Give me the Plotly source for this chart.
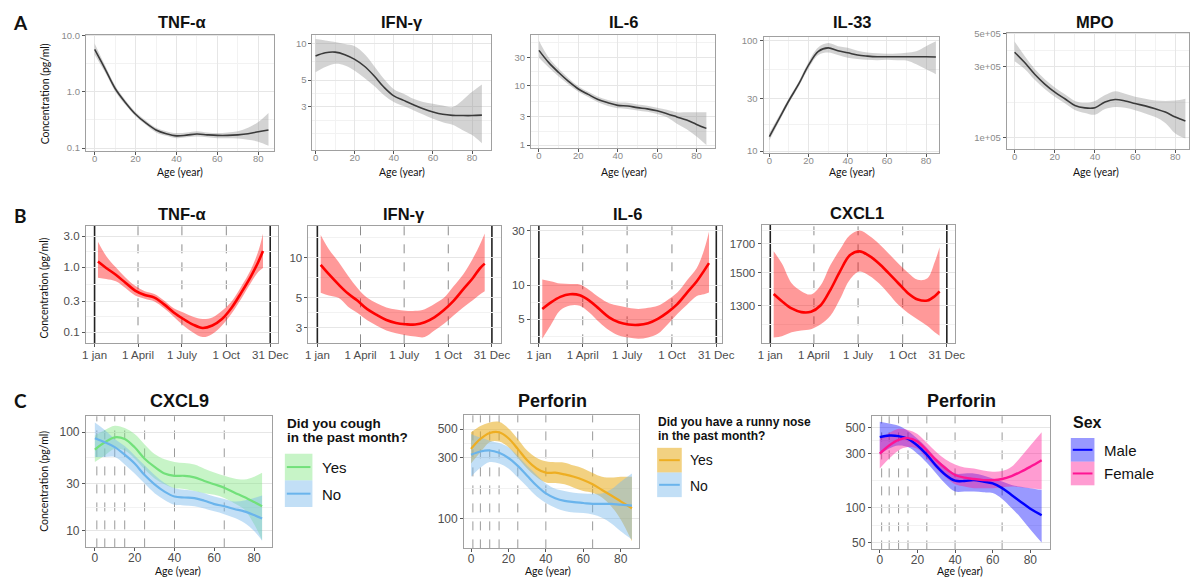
import plotly.graph_objects as go

# Browser adds an 8px body margin, so the figure is 8px smaller and page coordinates are shifted.
PAGE_OFF = 8
W, H = 1202 - PAGE_OFF, 580 - PAGE_OFF

# ---------------- DATA ----------------
AGE_A = [0, 5, 10, 15, 20, 25, 30, 35, 40, 45, 50, 55, 60, 65, 70, 75, 80, 85]

tnf_a_mean = [5.7, 2.6, 1.15, 0.65, 0.40, 0.28, 0.21, 0.18, 0.165, 0.17, 0.178, 0.172, 0.168, 0.168, 0.172, 0.18, 0.195, 0.21]
tnf_a_lo = [4.6, 2.25, 1.02, 0.59, 0.37, 0.26, 0.19, 0.165, 0.15, 0.155, 0.16, 0.155, 0.15, 0.15, 0.148, 0.14, 0.13, 0.11]
tnf_a_hi = [7.3, 3.0, 1.3, 0.72, 0.44, 0.31, 0.23, 0.20, 0.185, 0.19, 0.20, 0.19, 0.185, 0.19, 0.20, 0.23, 0.29, 0.42]

ifn_a_mean = [7.9, 8.4, 8.5, 8.1, 7.4, 6.5, 5.4, 4.36, 3.7, 3.4, 3.13, 2.9, 2.73, 2.61, 2.56, 2.55, 2.55, 2.57]
ifn_a_lo = [5.8, 6.4, 6.8, 6.6, 5.96, 5.2, 4.47, 3.75, 3.3, 3.05, 2.82, 2.6, 2.4, 2.25, 2.14, 1.94, 1.76, 1.51]
ifn_a_hi = [10.9, 10.6, 10.3, 9.9, 9.5, 8.2, 6.5, 5.1, 4.2, 3.85, 3.5, 3.3, 3.19, 3.08, 3.0, 3.4, 4.0, 4.6]

il6_a_mean = [40, 24.8, 16.9, 12, 8.9, 7.2, 5.9, 5.2, 4.7, 4.6, 4.3, 4.1, 3.8, 3.4, 3.0, 2.65, 2.24, 1.92]
il6_a_lo = [30, 20.5, 14.5, 10.6, 8.0, 6.5, 5.3, 4.6, 4.2, 4.1, 3.85, 3.65, 3.35, 2.95, 2.3, 1.85, 1.4, 1.0]
il6_a_hi = [58, 30, 19.5, 13.5, 9.9, 8.0, 6.6, 5.8, 5.3, 5.2, 4.85, 4.65, 4.3, 3.95, 3.6, 3.6, 3.6, 3.6]

il33_a_mean = [13.5, 19.7, 28.7, 40.5, 60, 80, 86, 81, 77.6, 74, 72.4, 71.5, 71.5, 71.5, 71.5, 71.5, 71.5, 71]
il33_a_lo = [12.5, 18.5, 27.2, 38.5, 56, 74, 78, 74, 70, 68, 67, 66.5, 67, 66.5, 66, 61, 55, 49.7]
il33_a_hi = [14.6, 21, 30.3, 42.7, 64, 87, 95, 89, 86, 81, 78, 77, 76, 76.5, 77.6, 80, 89, 98.6]

mpo_a_mean = [3.76e5, 3.2e5, 2.67e5, 2.29e5, 2.02e5, 1.82e5, 1.64e5, 1.58e5, 1.585e5, 1.73e5, 1.80e5, 1.76e5, 1.69e5, 1.63e5, 1.56e5, 1.48e5, 1.37e5, 1.29e5]
mpo_a_lo = [3.27e5, 2.9e5, 2.45e5, 2.12e5, 1.88e5, 1.7e5, 1.53e5, 1.46e5, 1.42e5, 1.55e5, 1.6e5, 1.58e5, 1.52e5, 1.45e5, 1.37e5, 1.25e5, 1.06e5, 0.98e5]
mpo_a_hi = [4.45e5, 3.55e5, 2.9e5, 2.47e5, 2.17e5, 1.95e5, 1.76e5, 1.71e5, 1.76e5, 1.93e5, 2.05e5, 1.97e5, 1.88e5, 1.82e5, 1.77e5, 1.76e5, 1.77e5, 1.82e5]

DAY_B = [8, 25, 45, 65, 85, 105, 125, 145, 165, 185, 205, 225, 245, 265, 285, 305, 325, 340, 350]

tnf_b_mean = [1.23, 0.98, 0.77, 0.58, 0.44, 0.376, 0.343, 0.27, 0.203, 0.161, 0.132, 0.117, 0.128, 0.161, 0.24, 0.41, 0.73, 1.2, 1.79]
tnf_b_lo = [0.69, 0.66, 0.61, 0.48, 0.37, 0.33, 0.30, 0.235, 0.175, 0.128, 0.10, 0.085, 0.095, 0.128, 0.195, 0.33, 0.58, 0.85, 0.98]
tnf_b_hi = [2.48, 1.5, 1.0, 0.70, 0.52, 0.43, 0.39, 0.31, 0.235, 0.203, 0.175, 0.161, 0.17, 0.216, 0.30, 0.51, 0.93, 1.75, 3.3]

ifn_b_mean = [8.8, 7.5, 6.3, 5.38, 4.75, 4.12, 3.73, 3.42, 3.25, 3.18, 3.16, 3.29, 3.58, 4.06, 4.75, 5.78, 7.0, 8.3, 9.0]
ifn_b_lo = [5.47, 5.2, 5.0, 4.3, 3.85, 3.4, 3.1, 2.86, 2.72, 2.63, 2.57, 2.55, 2.85, 3.2, 3.7, 4.24, 4.8, 5.3, 5.6]
ifn_b_hi = [14.7, 11.5, 9.3, 7.3, 5.9, 5.0, 4.55, 4.24, 4.1, 4.0, 4.0, 4.12, 4.5, 5.0, 6.1, 7.47, 9.8, 12.5, 15.1]

il6_b_mean = [6.15, 7.0, 7.87, 8.3, 8.13, 7.26, 6.15, 5.2, 4.7, 4.49, 4.46, 4.61, 5.04, 5.75, 6.8, 8.58, 10.8, 13.4, 15.6]
il6_b_lo = [3.37, 4.4, 6.0, 6.6, 6.56, 5.7, 4.7, 4.0, 3.6, 3.45, 3.37, 3.45, 3.72, 4.5, 5.56, 6.7, 8.0, 8.3, 8.58]
il6_b_hi = [11.2, 10.8, 10.3, 10.2, 10.1, 9.0, 7.76, 6.9, 6.56, 6.3, 6.15, 6.3, 6.56, 7.4, 8.58, 11.0, 14.1, 20.5, 29.5]

cxcl1_b_mean = [1368, 1326, 1285, 1265, 1267, 1303, 1393, 1510, 1617, 1645, 1613, 1561, 1497, 1433, 1373, 1336, 1330, 1355, 1384]
cxcl1_b_lo = [1134, 1140, 1159, 1168, 1175, 1200, 1245, 1340, 1455, 1507, 1480, 1433, 1370, 1306, 1260, 1225, 1191, 1160, 1142]
cxcl1_b_hi = [1645, 1560, 1433, 1385, 1365, 1420, 1550, 1660, 1763, 1800, 1760, 1700, 1630, 1561, 1500, 1455, 1464, 1570, 1675]

AGE_C1 = [0, 5, 10, 15, 20, 25, 30, 35, 40, 45, 50, 55, 60, 65, 70, 75, 80, 84]
AGE_C23 = [0, 5, 10, 15, 20, 25, 30, 35, 40, 45, 50, 55, 60, 65, 70, 75, 80, 86]

cxcl9_yes_mean = [66.5, 78.8, 88.5, 85, 70, 53.7, 44.3, 38, 36, 36, 34.7, 31.9, 29.5, 27.3, 24.4, 21.9, 19.5, 17.7]
cxcl9_yes_lo = [49.8, 58, 67.6, 65, 53.7, 42, 33.9, 29.5, 26.9, 26.5, 25.3, 24, 23.1, 21.5, 19, 16.5, 11.6, 8.0]
cxcl9_yes_hi = [92, 105, 116, 110, 95.5, 75, 60, 53, 49.8, 48.5, 46.8, 42.5, 38.9, 36, 33.9, 33, 35.2, 38.6]
cxcl9_no_mean = [86.5, 78.8, 70.3, 58.9, 47.9, 36.6, 29.5, 24.9, 22.2, 21.7, 21.4, 20.1, 18.6, 17.7, 16.6, 15.7, 14.4, 13.3]
cxcl9_no_lo = [55.8, 56, 55.8, 47, 38, 30, 24, 20.5, 18.3, 18, 17.7, 16.8, 15.7, 14.7, 13.5, 12, 9.9, 7.9]
cxcl9_no_hi = [125, 105, 85, 72, 58, 46, 36.6, 30.5, 26.9, 26, 25.3, 24, 22.2, 21, 19.8, 20.2, 21.4, 22.7]

perf_yes_mean = [351, 420, 467, 473, 425, 351, 286, 247, 229, 229, 222, 213, 201, 186, 168, 152, 137, 121]
perf_yes_lo = [270, 330, 396, 400, 362, 300, 247, 212, 192, 190, 186, 175, 165, 160, 147, 125, 99, 67]
perf_yes_hi = [473, 530, 564, 571, 507, 420, 341, 300, 281, 276, 274, 260, 247, 228, 213, 210, 213, 213]
perf_no_mean = [316, 335, 341, 327, 298, 259, 217, 182, 158, 145, 138, 135, 133, 131, 131, 131, 129, 127]
perf_no_lo = [213, 250, 277, 270, 247, 210, 178, 150, 133, 122, 115, 112, 111, 108, 102, 92, 80, 69]
perf_no_hi = [459, 430, 407, 390, 362, 310, 259, 220, 189, 172, 165, 160, 158, 157, 158, 170, 195, 226]

male_mean = [415, 429, 424, 401, 351, 292, 233, 194, 173, 172, 175, 170, 164, 149, 130, 113, 98.6, 86.5]
male_lo = [292, 330, 351, 340, 298, 248, 200, 162, 139, 139, 139, 137, 135, 120, 100, 82, 65, 49.9]
male_hi = [566, 545, 522, 470, 401, 335, 270, 230, 200, 200, 200, 192, 181, 170, 159, 153, 149, 144]
female_mean = [298, 351, 393, 407, 380, 318, 261, 221, 194, 184, 179, 175, 175, 179, 190, 207, 229, 261]
female_lo = [221, 270, 318, 340, 329, 270, 221, 185, 161, 154, 149, 149, 149, 152, 154, 152, 149, 146]
female_hi = [401, 450, 490, 480, 443, 370, 308, 265, 239, 225, 221, 212, 207, 210, 229, 280, 351, 458]

AGE_TICKS = [0, 20, 40, 60, 80]
DATE_TICKS = [1, 91, 182, 274, 365]
DATE_LABELS = ["1 jan", "1 April", "1 July", "1 Oct", "31 Dec"]
AGE_CUTS = [1, 5, 10, 15, 25, 40, 65]

# ---------------- STYLE ----------------
FONT = "Liberation Sans, Arial, sans-serif"
FONT2 = "Lato, Open Sans, sans-serif"
GREY_LINE = "#3a3a3a"
GREY_BAND = "rgba(150,150,150,0.42)"
RED = "#ff0000"
RED_BAND = "rgba(255,0,0,0.40)"
GREEN = "#72e07a"
GREEN_BAND = "rgba(130,230,130,0.45)"
LBLUE = "#6ab4ec"
LBLUE_BAND = "rgba(120,185,235,0.45)"
GOLD = "#eeae22"
GOLD_BAND = "rgba(232,172,25,0.55)"
BLUE = "#0000ff"
BLUE_BAND = "rgba(0,0,255,0.40)"
PINK = "#ff1493"
PINK_BAND = "rgba(255,20,147,0.42)"

fig = go.Figure()


def PX(p):
    return (p - PAGE_OFF) / W


def PY(p):
    return 1 - (p - PAGE_OFF) / H


def xd(a, b):
    return [max(0.0, PX(a)), min(1.0, PX(b))]


def yd(top, bottom):
    return [max(0.0, PY(bottom)), min(1.0, PY(top))]


# panel specs: (x px, y px, xrange, yrange(log10), tickvals, ticktext, minor, kind)
panels = [
    ((82, 273), (30, 148), [-4.3, 87.7], [-1.053, 1.018], [0.1, 1, 10], ["0.1", "1.0", "10.0"], [0.316, 3.16], "A"),
    ((312, 493), (30, 147), [-1.6, 89.5], [0.122, 1.073], [3, 5, 10], ["3", "5", "10"], [1.8, 2.32, 3.87, 7.07], "A"),
    ((534, 721), (30, 145), [-4.0, 89.5], [-0.05, 1.867], [1, 3, 10, 30], ["1", "3", "10", "30"], [1.73, 5.48, 17.3, 54.8], "A"),
    ((770, 948), (32, 150), [-3.0, 86.5], [0.982, 2.036], [10, 30, 100], ["10", "30", "100"], [17.3, 54.8], "A"),
    ((1017, 1202), (28, 146), [-3.9, 86.8], [4.92, 5.707], [1e5, 3e5, 5e5], ["1e+05", "3e+05", "5e+05"], [1.73e5, 3.87e5], "A"),
    ((82, 277), (224, 343), [-17, 381], [-1.167, 0.636], [0.1, 0.3, 1, 3], ["0.1", "0.3", "1.0", "3.0"], [0.173, 0.548, 1.73], "B"),
    ((308, 503), (224, 343), [-17.5, 383], [0.36, 1.235], [3, 5, 10], ["3", "5", "10"], [3.87, 7.07, 14.1], "B"),
    ((534, 728), (224, 343), [-15, 377], [0.487, 1.52], [5, 10, 30], ["5", "10", "30"], [3.5, 7.07, 17.3], "B"),
    ((768, 964), (223, 343), [-17, 381], [3.0435, 3.2656], [1300, 1500, 1700], ["1300", "1500", "1700"], [1200, 1400, 1600, 1800], "B"),
    ((82, 271), (417, 550), [-4.5, 89], [0.83, 2.16], [10, 30, 100], ["10", "30", "100"], [17.3, 54.8], "C"),
    ((466, 644), (416, 551), [-3.7, 90], [1.77, 2.807], [100, 300, 500], ["100", "300", "500"], [173, 387], "C"),
    ((880, 1061), (417, 552), [-4.2, 90.5], [1.639, 2.80], [50, 100, 300, 500], ["50", "100", "300", "500"], [70.7, 173, 387], "C"),
]

series = [
    [(AGE_A, tnf_a_mean, tnf_a_lo, tnf_a_hi, GREY_LINE, GREY_BAND, 1.6)],
    [(AGE_A, ifn_a_mean, ifn_a_lo, ifn_a_hi, GREY_LINE, GREY_BAND, 1.6)],
    [(AGE_A, il6_a_mean, il6_a_lo, il6_a_hi, GREY_LINE, GREY_BAND, 1.6)],
    [(AGE_A, il33_a_mean, il33_a_lo, il33_a_hi, GREY_LINE, GREY_BAND, 1.6)],
    [(AGE_A, mpo_a_mean, mpo_a_lo, mpo_a_hi, GREY_LINE, GREY_BAND, 1.6)],
    [(DAY_B, tnf_b_mean, tnf_b_lo, tnf_b_hi, RED, RED_BAND, 2.6)],
    [(DAY_B, ifn_b_mean, ifn_b_lo, ifn_b_hi, RED, RED_BAND, 2.6)],
    [(DAY_B, il6_b_mean, il6_b_lo, il6_b_hi, RED, RED_BAND, 2.6)],
    [(DAY_B, cxcl1_b_mean, cxcl1_b_lo, cxcl1_b_hi, RED, RED_BAND, 2.6)],
    [(AGE_C1, cxcl9_yes_mean, cxcl9_yes_lo, cxcl9_yes_hi, GREEN, GREEN_BAND, 2.2),
     (AGE_C1, cxcl9_no_mean, cxcl9_no_lo, cxcl9_no_hi, LBLUE, LBLUE_BAND, 2.2)],
    [(AGE_C23, perf_yes_mean, perf_yes_lo, perf_yes_hi, GOLD, GOLD_BAND, 2.2),
     (AGE_C23, perf_no_mean, perf_no_lo, perf_no_hi, LBLUE, LBLUE_BAND, 2.2)],
    [(AGE_C23, male_mean, male_lo, male_hi, BLUE, BLUE_BAND, 2.4),
     (AGE_C23, female_mean, female_lo, female_hi, PINK, PINK_BAND, 2.4)],
]

layout_axes = {}
shapes = []
for i, (pan, sers) in enumerate(zip(panels, series), start=1):
    (x0, x1), (y0, y1), xr, yr, tv, tt, minor, kind = pan
    xa = "x" if i == 1 else f"x{i}"
    ya = "y" if i == 1 else f"y{i}"
    for (xs, m, lo, hi, lc, bc, lw) in sers:
        fig.add_trace(go.Scatter(x=xs, y=hi, mode="lines", line=dict(width=0, shape="spline"),
                                 xaxis=xa, yaxis=ya, showlegend=False, hoverinfo="skip"))
        fig.add_trace(go.Scatter(x=xs, y=lo, mode="lines", line=dict(width=0, shape="spline"),
                                 fill="tonexty", fillcolor=bc,
                                 xaxis=xa, yaxis=ya, showlegend=False, hoverinfo="skip"))
    for (xs, m, lo, hi, lc, bc, lw) in sers:
        fig.add_trace(go.Scatter(x=xs, y=m, mode="lines", line=dict(color=lc, width=lw, shape="spline"),
                                 xaxis=xa, yaxis=ya, showlegend=False))

    tick_col = "#8a8a8a" if kind == "A" else "#4d4d4d"
    tick_size = 9.5 if kind == "A" else (11.5 if kind == "B" else 12)
    border = "#a0a0a0"
    xkey = "xaxis" if i == 1 else f"xaxis{i}"
    ykey = "yaxis" if i == 1 else f"yaxis{i}"
    xax = dict(domain=xd(x0, x1), range=xr, anchor=ya, showline=True, mirror=True,
               linecolor=border, linewidth=1, ticks="outside", ticklen=3, tickcolor="#555",
               ticklabelstandoff=-4 if kind != "B" else -2,
               tickfont=dict(family=FONT, size=tick_size, color=tick_col), zeroline=False)
    if kind == "B":
        xax.update(tickmode="array", tickvals=DATE_TICKS, ticktext=DATE_LABELS, showgrid=False)
    else:
        xax.update(tickmode="array", tickvals=AGE_TICKS, ticktext=[str(v) for v in AGE_TICKS])
        if kind == "A":
            xax.update(showgrid=True, gridcolor="#e6e6e6", gridwidth=1,
                       minor=dict(tickmode="array", tickvals=[10, 30, 50, 70, 90], showgrid=True,
                                  gridcolor="#f2f2f2", ticks=""))
        else:
            xax.update(showgrid=False)
    yax = dict(domain=yd(y0, y1), type="log", range=yr, anchor=xa, showline=True, mirror=True,
               linecolor=border, linewidth=1, ticks="outside", ticklen=3, tickcolor="#555",
               tickmode="array", tickvals=tv, ticktext=tt,
               tickfont=dict(family=FONT, size=tick_size, color=tick_col),
               showgrid=True, gridcolor="#e6e6e6", gridwidth=1, zeroline=False,
               minor=dict(tickmode="array", tickvals=minor, showgrid=True, gridcolor="#f2f2f2", ticks=""))
    layout_axes[xkey] = xax
    layout_axes[ykey] = yax

    if kind == "B":
        for d in DATE_TICKS:
            solid = d in (1, 365)
            shapes.append(dict(type="line", xref=xa, yref=f"{ya} domain", x0=d, x1=d, y0=0, y1=1,
                               layer="below",
                               line=dict(color="#222" if solid else "#8c8c8c",
                                         width=1.6 if solid else 1, dash="solid" if solid else "dash")))
    if kind == "C":
        for a in AGE_CUTS:
            shapes.append(dict(type="line", xref=xa, yref=f"{ya} domain", x0=a, x1=a, y0=0, y1=1,
                               layer="below", line=dict(color="#9a9a9a", width=1, dash="dash")))

annotations = []


def txt(s, x, y, size, bold=False, color="#111", family=FONT, xanchor="center", angle=0):
    annotations.append(dict(text=f"<b>{s}</b>" if bold else s, x=PX(x), y=PY(y),
                            xref="paper", yref="paper", showarrow=False, xanchor=xanchor,
                            yanchor="middle", textangle=angle,
                            font=dict(family=family, size=size, color=color)))


# panel letters
txt("A", 16, 18, 19, bold=True, family=FONT2)
txt("B", 16, 213, 19, bold=True, family=FONT2)
txt("C", 16, 401, 19, bold=True, family=FONT2)

# panel titles
titles = [("TNF-α", 180, 17), ("IFN-γ", 403, 17), ("IL-6", 628, 17), ("IL-33", 860, 17), ("MPO", 1107, 17),
          ("TNF-α", 180, 212), ("IFN-γ", 405, 212), ("IL-6", 632, 212), ("CXCL1", 865, 211),
          ("CXCL9", 177, 402), ("Perforin", 556, 402), ("Perforin", 971, 402)]
for s, x, y in titles:
    txt(s, x, y, 18 if y > 300 else 16.5, bold=True)

# y titles
for yc in (90, 287, 483):
    txt("Concentration (pg/ml)", 40, yc, 10.5, family=FONT2, angle=-90)

# x titles
for xc in (178, 403, 628, 860, 1108):
    txt("Age (year)", xc, 169, 10.5, family=FONT2)
for xc in (176, 551, 970):
    txt("Age (year)", xc, 574, 10.5, family=FONT2)


# manual legends
def legend_key(x0, y0, w, h, fill, line):
    shapes.append(dict(type="rect", xref="paper", yref="paper", x0=PX(x0), x1=PX(x0 + w),
                       y0=PY(y0 + h), y1=PY(y0), fillcolor=fill, line=dict(width=0)))
    shapes.append(dict(type="line", xref="paper", yref="paper", x0=PX(x0 + 2), x1=PX(x0 + w - 2),
                       y0=PY(y0 + h / 2), y1=PY(y0 + h / 2), line=dict(color=line, width=2)))


txt("Did you cough", 284, 424, 13.5, bold=True, xanchor="left")
txt("in the past month?", 284, 439, 13.5, bold=True, xanchor="left")
legend_key(284, 455, 28, 27, GREEN_BAND, GREEN)
legend_key(284, 482, 28, 27, LBLUE_BAND, LBLUE)
txt("Yes", 320, 469, 15, xanchor="left")
txt("No", 320, 496, 15, xanchor="left")

txt("Did you have a runny nose", 661, 423, 12, bold=True, xanchor="left")
txt("in the past month?", 661, 437, 12, bold=True, xanchor="left")
legend_key(662, 449, 25, 25, GOLD_BAND, GOLD)
legend_key(662, 474, 25, 25, LBLUE_BAND, LBLUE)
txt("Yes", 693, 461, 14, xanchor="left")
txt("No", 693, 488, 14, xanchor="left")

txt("Sex", 1082, 423, 16, bold=True, xanchor="left")
legend_key(1082, 439, 24, 24, BLUE_BAND, BLUE)
legend_key(1082, 463, 24, 24, PINK_BAND, PINK)
txt("Male", 1114, 452, 15, xanchor="left")
txt("Female", 1114, 475, 15, xanchor="left")

fig.update_layout(
    width=W, height=H, margin=dict(l=0, r=0, t=0, b=0),
    paper_bgcolor="white", plot_bgcolor="white", showlegend=False,
    shapes=shapes, annotations=annotations, **layout_axes,
)

fig.write_html("out.html")
